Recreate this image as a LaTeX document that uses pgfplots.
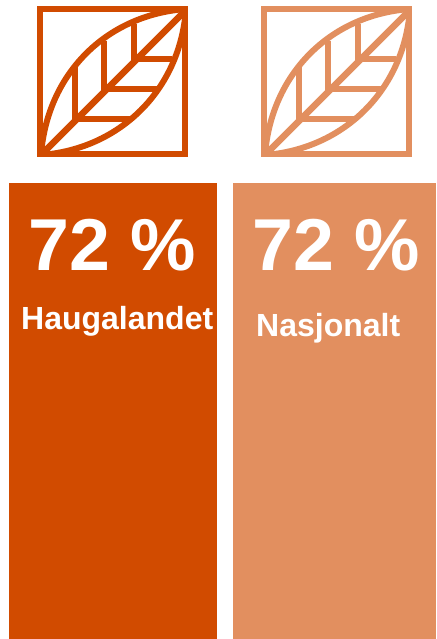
\documentclass[border=0pt]{standalone}
\usepackage{fontspec}
\setmainfont{Liberation Sans}
\usepackage{pgfplots}
\pgfplotsset{compat=1.18}
\definecolor{darkor}{HTML}{D14B00}
\definecolor{lightor}{HTML}{E28F5F}
\newcommand{\leaficon}[1]{%
  \begin{scope}[draw=#1,line width=6pt,line cap=butt,line join=miter]
    \clip (axis cs:40,8) rectangle (axis cs:186,156);
    \draw[line width=6pt] (axis cs:41,155) .. controls (axis cs:47,75) and (axis cs:105,15) .. (axis cs:186,9);
    \draw[line width=6pt] (axis cs:41,155) .. controls (axis cs:120,149) and (axis cs:180,90) .. (axis cs:186,9);
    \draw[line width=6.5pt] (axis cs:41,155) -- (axis cs:186,10);
    \draw (axis cs:75,120) -- (axis cs:75,67);
    \draw (axis cs:104,91) -- (axis cs:104,41);
    \draw (axis cs:134,61) -- (axis cs:134,24);
    \draw (axis cs:74,119) -- (axis cs:130,119);
    \draw (axis cs:104,89) -- (axis cs:157,89);
    \draw (axis cs:134,59) -- (axis cs:172,59);
  \end{scope}
  \draw[draw=#1,line width=6pt] (axis cs:40.2,9.2) rectangle (axis cs:185,154);
}
\begin{document}
\begin{tikzpicture}
\begin{axis}[
  at={(0pt,0pt)},anchor=south west,
  width=436pt,height=639pt,scale only axis,
  xmin=0,xmax=436,ymin=0,ymax=639,y dir=reverse,
  axis lines=none,clip=false,
]
\addplot[draw=none,fill=white] coordinates {(0,0) (436,0) (436,639) (0,639)} -- cycle;
\addplot[draw=none,fill=darkor] coordinates {(9,183) (217,183) (217,639) (9,639)} -- cycle;
\addplot[draw=none,fill=lightor] coordinates {(233,183) (436,183) (436,639) (233,639)} -- cycle;
\begin{scope}
\leaficon{darkor}
\end{scope}
\begin{scope}[xshift=224pt]
\leaficon{lightor}
\end{scope}
\node[anchor=base west,inner sep=0pt,text=white,font=\fontsize{73.5}{75}\selectfont\bfseries] at (axis cs:28.5,270) {72 \%};
\node[anchor=base west,inner sep=0pt,text=white,font=\fontsize{73.5}{75}\selectfont\bfseries] at (axis cs:252.5,270) {72 \%};
\node[anchor=base west,inner sep=0pt,text=white,font=\fontsize{32}{32}\selectfont\bfseries] at (axis cs:21,329) {Haugalandet};
\node[anchor=base west,inner sep=0pt,text=white,font=\fontsize{32}{32}\selectfont\bfseries] at (axis cs:256,336) {Nasjonalt};
\end{axis}
\end{tikzpicture}
\end{document}
